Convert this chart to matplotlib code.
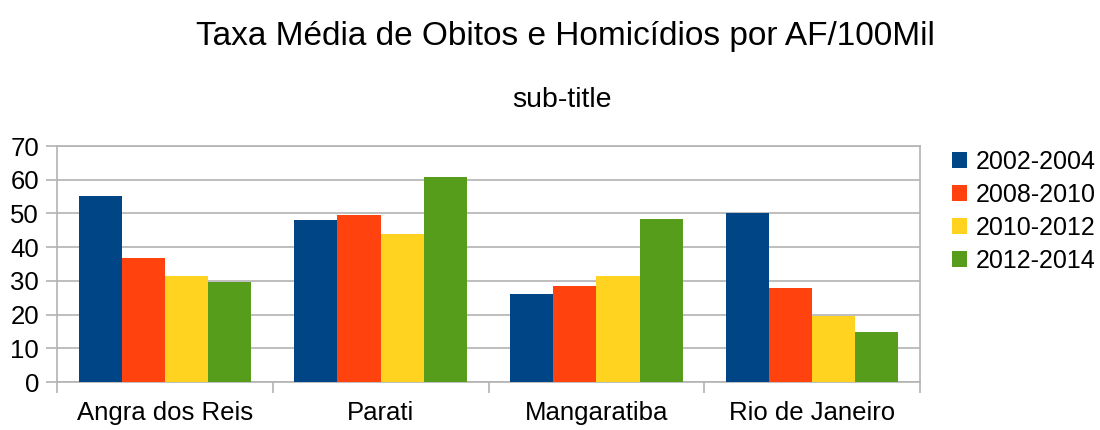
import matplotlib
matplotlib.use("Agg")
import matplotlib.pyplot as plt
import numpy as np
from matplotlib.patches import Patch

plt.rcParams['font.family'] = ['Liberation Sans', 'DejaVu Sans']

categories = ["Angra dos Reis", "Parati", "Mangaratiba", "Rio de Janeiro"]
series_names = ["2002-2004", "2008-2010", "2010-2012", "2012-2014"]
s2002_2004 = [55.2, 48.1, 26.1, 50.2]
s2008_2010 = [36.8, 49.6, 28.5, 27.9]
s2010_2012 = [31.5, 44.0, 31.5, 19.6]
s2012_2014 = [29.7, 60.9, 48.4, 14.9]
series_values = [s2002_2004, s2008_2010, s2010_2012, s2012_2014]
colors = ["#004586", "#ff420e", "#ffd320", "#579d1c"]
yticks = [0, 10, 20, 30, 40, 50, 60, 70]

fig = plt.figure(figsize=(11, 4.3), dpi=100)
ax = fig.add_axes([57/1100, 1-382/430, (920-57)/1100, (382-146)/430])

x = np.arange(len(categories))
w = 0.2
for i, (name, vals, c) in enumerate(zip(series_names, series_values, colors)):
    ax.bar(x + (i - 1.5) * w, vals, width=w, color=c, label=name, zorder=3)

ax.set_xlim(-0.5, len(categories) - 0.5)
ax.set_ylim(0, 70)
ax.set_yticks(yticks)
ax.set_yticklabels([str(v) for v in yticks], fontsize=18.5)
ax.set_xticks(x)
ax.set_xticklabels(categories, fontsize=18.5)
ax.set_xticks(np.arange(-0.5, len(categories), 1.0), minor=True)
ax.tick_params(axis='x', which='major', length=0, pad=14)
ax.tick_params(axis='x', which='minor', length=8, color='#b3b3b3', width=1.2)
ax.tick_params(axis='y', length=8, color='#b3b3b3', width=1.2, pad=5)
ax.grid(axis='y', color='#b3b3b3', linewidth=1.2, zorder=0)
for s in ax.spines.values():
    s.set_color('#b3b3b3')
    s.set_linewidth(1.2)

fig.text(565/1100, 1-36/430, "Taxa Média de Obitos e Homicídios por AF/100Mil",
         ha='center', va='center', fontsize=24)
fig.text(562/1100, 1-100/430, "sub-title", ha='center', va='center', fontsize=20.5)

handles = [Patch(facecolor=c, edgecolor='none') for c in colors]
fig.legend(handles, series_names, loc='upper left', bbox_to_anchor=(942/1100, 1-140/430),
           frameon=False, fontsize=18, handlelength=0.6, handleheight=0.6,
           handletextpad=0.35, labelspacing=0.36, borderaxespad=0, borderpad=0.4)

fig.savefig("out.png", dpi=100)
